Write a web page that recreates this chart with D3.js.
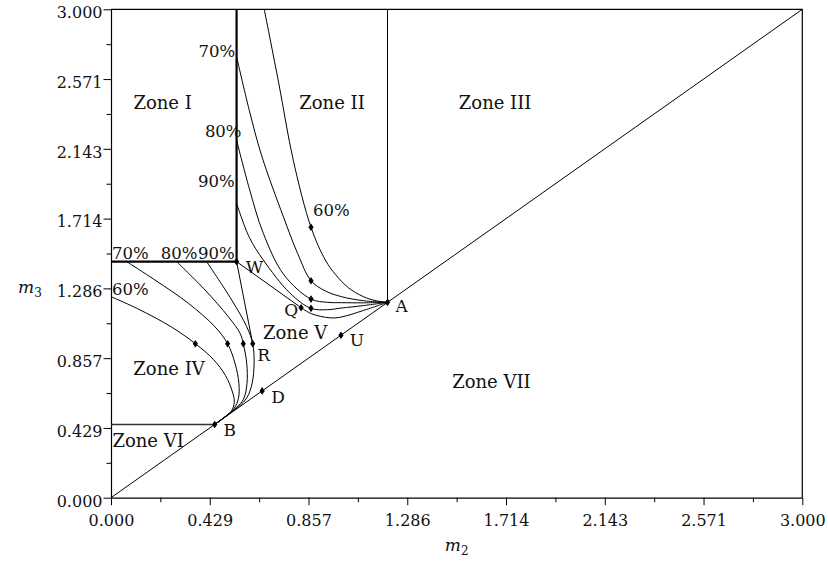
<!DOCTYPE html>
<html><head><meta charset="utf-8">
<script src="https://cdn.jsdelivr.net/npm/d3@7"></script>
<style>body{margin:0;background:#fff}svg{display:block}</style>
</head><body><svg id="c" width="828" height="562"></svg>
<script>
// ---------- data ----------
const tickValues = [0, 3/7, 6/7, 9/7, 12/7, 15/7, 18/7, 3];
const tickLabels = ["0.000","0.429","0.857","1.286","1.714","2.143","2.571","3.000"];
const minorTickValues = [3/14, 9/14, 15/14, 21/14, 27/14, 33/14, 39/14];

const pointNames = ["A","B","D","U","Q","R","W"];
const pointX =     [1.2, 0.45, 0.656, 0.998, 0.825, 0.615, 0.545];
const pointY =     [1.2, 0.45, 0.656, 0.998, 1.167, 0.946, 1.45];

// extra markers on the iso-curves
const upperMarkX = [0.868, 0.868, 0.868, 0.868];
const upperMarkY = [1.661, 1.333, 1.220, 1.163];
const lowerMarkX = [0.366, 0.506, 0.574];
const lowerMarkY = [0.946, 0.946, 0.946];

// iso-curves (upper family, ending at A)
const upper60 = [[0.665,3.0],[0.728,2.546],[0.791,2.073],[0.868,1.661],[0.93,1.46],[0.975,1.37],[1.03,1.29],[1.095,1.235],[1.15,1.21],[1.2,1.2]];
const upper70 = [[0.545,2.709],[0.60,2.38],[0.654,2.10],[0.748,1.726],[0.81,1.50],[0.868,1.333],[0.93,1.27],[1.0,1.235],[1.095,1.21],[1.2,1.2]];
const upper80 = [[0.545,2.197],[0.60,1.90],[0.661,1.624],[0.75,1.37],[0.868,1.220],[0.94,1.20],[1.0,1.198],[1.095,1.197],[1.2,1.2]];
const upper90 = [[0.545,1.808],[0.60,1.60],[0.661,1.46],[0.777,1.256],[0.868,1.163],[0.94,1.155],[1.0,1.165],[1.095,1.18],[1.2,1.2]];
const upperQ  = [[0.825,1.167],[0.87,1.13],[0.95,1.105],[1.0,1.11],[1.095,1.15],[1.2,1.2]];

// iso-curves (lower family, ending at B)
const lower60 = [[0,1.235],[0.118,1.159],[0.263,1.048],[0.366,0.946],[0.444,0.85],[0.497,0.75],[0.527,0.65],[0.535,0.585],[0.522,0.53],[0.49,0.49],[0.45,0.45]];
const lower70 = [[0.068,1.45],[0.191,1.337],[0.336,1.194],[0.451,1.050],[0.506,0.946],[0.538,0.826],[0.555,0.703],[0.553,0.61],[0.535,0.55],[0.49,0.492],[0.45,0.45]];
const lower80 = [[0.285,1.45],[0.408,1.276],[0.509,1.112],[0.560,1.010],[0.574,0.946],[0.589,0.826],[0.59,0.70],[0.575,0.605],[0.545,0.555],[0.495,0.497],[0.45,0.45]];
const lower90 = [[0.415,1.45],[0.524,1.214],[0.589,1.050],[0.615,0.946],[0.621,0.826],[0.612,0.70],[0.59,0.615],[0.555,0.56],[0.50,0.502],[0.45,0.45]];

const zoneNames = ["Zone I","Zone II","Zone III","Zone IV","Zone V","Zone VI","Zone VII"];
const zoneX =     [0.224, 0.959, 1.667, 0.252, 0.799, 0.161, 1.651];
const zoneY =     [2.426, 2.426, 2.426, 0.795, 1.013, 0.354, 0.711];

const pctNames = ["70%","80%","90%","60%","70%","80%","90%","60%"];
const pctX =     [0.459, 0.487, 0.457, 0.956, 0.084, 0.296, 0.457, 0.084];
const pctY =     [2.740, 2.248, 1.941, 1.767, 1.501, 1.501, 1.501, 1.278];

// ---------- drawing ----------
const svg = d3.select("#c");
const x = d3.scaleLinear().domain([0,3]).range([111, 802.3]);
const y = d3.scaleLinear().domain([0,3]).range([497.7, 9.3]);
const FONT = "DejaVu Serif";

const A = [pointX[0], pointY[0]], B = [pointX[1], pointY[1]];
const Q = [pointX[4], pointY[4]], R = [pointX[5], pointY[5]], W = [pointX[6], pointY[6]];

const line = d3.line().x(d=>x(d[0])).y(d=>y(d[1]));
const smooth = d3.line().x(d=>x(d[0])).y(d=>y(d[1])).curve(d3.curveCatmullRom.alpha(0.5));

const g = svg.append("g");

// frame top and right
g.append("path").attr("d", line([[0,3],[3,3],[3,0]])).attr("fill","none").attr("stroke","#000").attr("stroke-width",1.2);

// axes
function styleAxis(sel){
  sel.selectAll("path.domain").attr("stroke","#000").attr("stroke-width",1.2);
  sel.selectAll(".tick line").attr("stroke","#000").attr("stroke-width",1);
  sel.selectAll("text").attr("font-family",FONT).attr("font-size",16).attr("fill","#111");
}
const ax = g.append("g").attr("transform",`translate(0,${y(0)})`)
  .call(d3.axisBottom(x).tickValues(tickValues).tickFormat((d,i)=>tickLabels[i]).tickSize(7.5).tickPadding(9).tickSizeOuter(0));
styleAxis(ax);
const axm = g.append("g").attr("transform",`translate(0,${y(0)})`)
  .call(d3.axisBottom(x).tickValues(minorTickValues).tickFormat("").tickSize(4.5).tickSizeOuter(0));
styleAxis(axm); axm.select("path.domain").remove();
const ay = g.append("g").attr("transform",`translate(${x(0)},0)`)
  .call(d3.axisLeft(y).tickValues(tickValues).tickFormat((d,i)=>tickLabels[i]).tickSize(7.5).tickPadding(1).tickSizeOuter(0));
styleAxis(ay);
ay.selectAll("text").attr("dy","0.52em");
const aym = g.append("g").attr("transform",`translate(${x(0)},0)`)
  .call(d3.axisLeft(y).tickValues(minorTickValues).tickFormat("").tickSize(4.5).tickSizeOuter(0));
styleAxis(aym); aym.select("path.domain").remove();

// axis titles
const t2 = svg.append("text").attr("x", x(1.5)).attr("y", 551).attr("text-anchor","middle")
  .attr("font-family",FONT).attr("font-size",17).attr("fill","#111");
t2.append("tspan").attr("font-style","italic").text("m");
t2.append("tspan").attr("font-size",12).attr("dy",4).text("2");
const t3 = svg.append("text").attr("x", 30).attr("y", 293).attr("text-anchor","middle")
  .attr("font-family",FONT).attr("font-size",17).attr("fill","#111");
t3.append("tspan").attr("font-style","italic").text("m");
t3.append("tspan").attr("font-size",12).attr("dy",4).text("3");

// structural lines
const thin = (d, w) => g.append("path").attr("d", d).attr("fill","none").attr("stroke","#000").attr("stroke-width", w||1);
thin(line([[0,0],[3,3]]));
thin(line([A,[A[0],3]]));
thin(line([[0,B[1]],B]), 1.6).attr("stroke","#333");
thin(line([[W[0],3],W]), 2.2);
thin(line([[0,W[1]],W]), 2.2);
thin(line([W,Q]));
thin(line([W,R]));

// curves
[upper60, upper70, upper80, upper90, upperQ, lower60, lower70, lower80, lower90].forEach(c => thin(smooth(c), 1));

// markers
const diamond = "M0,-3.8L2.6,0L0,3.8L-2.6,0Z";
const marks = pointX.map((v,i)=>[v,pointY[i]])
  .concat(upperMarkX.map((v,i)=>[v,upperMarkY[i]]))
  .concat(lowerMarkX.map((v,i)=>[v,lowerMarkY[i]]));
g.selectAll("path.mk").data(marks).join("path").attr("class","mk")
  .attr("d", diamond).attr("transform", d=>`translate(${x(d[0])},${y(d[1])})`).attr("fill","#000");

// point labels (offsets in px from marker)
const labelOffset = {A:[14,4], B:[15,6], D:[16,6], U:[16,5], Q:[-10,2], R:[11,11], W:[18,5]};
pointNames.forEach((n,i)=>{
  const o = labelOffset[n];
  svg.append("text").attr("x", x(pointX[i])+o[0]).attr("y", y(pointY[i])+o[1])
    .attr("text-anchor","middle").attr("dominant-baseline","central")
    .attr("font-family",FONT).attr("font-size",17).attr("fill","#111").text(n);
});

// zone labels
zoneNames.forEach((n,i)=>{
  svg.append("text").attr("x", x(zoneX[i])).attr("y", y(zoneY[i]))
    .attr("text-anchor","middle").attr("dominant-baseline","central")
    .attr("font-family",FONT).attr("font-size",18).attr("fill","#111").text(n);
});

// percentage labels
pctNames.forEach((n,i)=>{
  svg.append("text").attr("x", x(pctX[i])).attr("y", y(pctY[i]))
    .attr("text-anchor","middle").attr("dominant-baseline","central")
    .attr("font-family",FONT).attr("font-size",16.5).attr("fill","#111").text(n);
});
</script></body></html>
